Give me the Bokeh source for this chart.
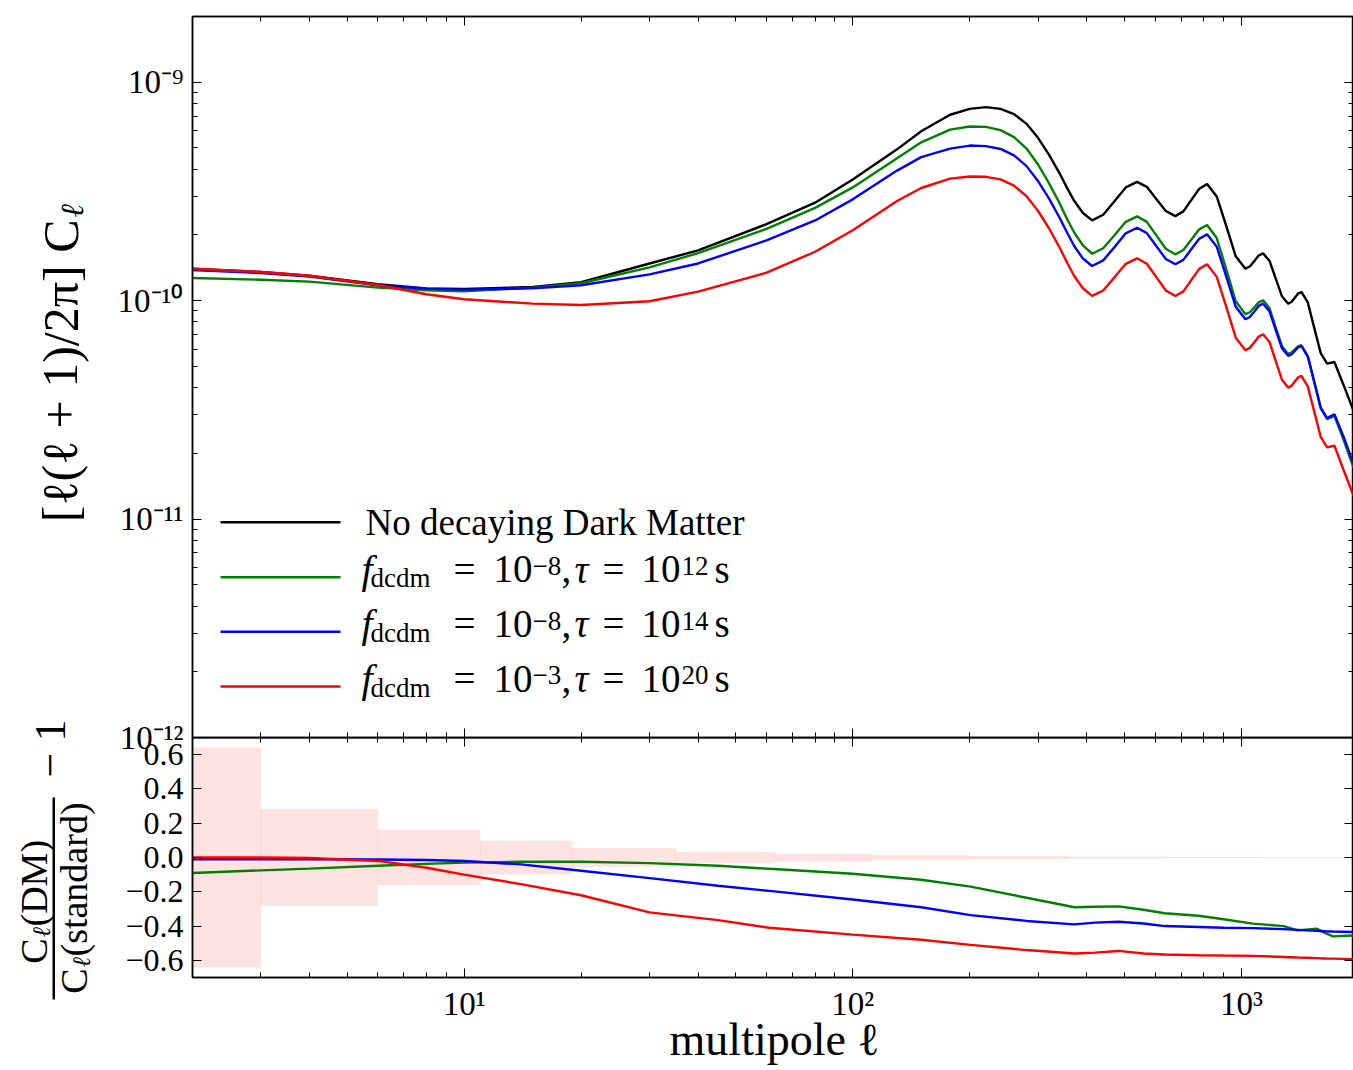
from bokeh.plotting import figure
from bokeh.layouts import column
from bokeh.models import (Range1d, LogAxis, LinearAxis, FixedTicker, LogTicker,
                          CustomJSTickFormatter, Label, BoxAnnotation)
from bokeh.embed import file_html
from bokeh.resources import INLINE

FONT = "Liberation Serif"

# ---------------- data ----------------
ell = [2, 3, 4, 6, 8, 10, 15, 20, 30, 40,
       60, 80, 100, 130, 150, 178, 200, 220, 240, 260,
       280, 300, 320, 340, 357, 372, 391, 413, 441, 472,
       504, 539, 571, 604, 639, 676, 709, 743, 779, 816,
       864, 915, 967, 1024, 1051, 1080, 1108, 1137, 1181, 1225,
       1272, 1319, 1345, 1372, 1399, 1427, 1482, 1540, 1600, 1662,
       1735, 1836, 1943]
# l(l+1)C_l/2pi in units of 1e-10
cl_standard = [1.40, 1.353, 1.30, 1.19, 1.137, 1.13, 1.155, 1.214, 1.48, 1.70,
               2.24, 2.81, 3.59, 4.93, 5.97, 7.10, 7.55, 7.69, 7.55, 7.15,
               6.45, 5.55, 4.65, 3.85, 3.25, 2.85, 2.52, 2.33, 2.474, 2.857,
               3.300, 3.500, 3.321, 2.922, 2.572, 2.439, 2.564, 2.886, 3.252, 3.417,
               2.999, 2.188, 1.596, 1.401, 1.434, 1.519, 1.609, 1.647, 1.524, 1.264,
               1.047, 0.969, 0.986, 1.031, 1.077, 1.096, 0.981, 0.751, 0.575, 0.515,
               0.524, 0.407, 0.313]
cl_f8_t12 = [1.27, 1.247, 1.222, 1.147, 1.116, 1.104, 1.147, 1.202, 1.42, 1.65,
             2.13, 2.66, 3.30, 4.49, 5.31, 6.07, 6.27, 6.25, 6.04, 5.61,
             4.97, 4.19, 3.44, 2.81, 2.34, 2.04, 1.79, 1.640, 1.738, 1.997,
             2.296, 2.432, 2.294, 1.991, 1.728, 1.630, 1.705, 1.902, 2.121, 2.219,
             1.935, 1.387, 0.994, 0.867, 0.885, 0.933, 0.983, 1.004, 0.925, 0.757,
             0.619, 0.570, 0.578, 0.597, 0.617, 0.625, 0.558, 0.424, 0.321, 0.287,
             0.297, 0.228, 0.172]
cl_f8_t14 = [1.38, 1.339, 1.288, 1.176, 1.135, 1.123, 1.139, 1.176, 1.32, 1.48,
             1.89, 2.33, 2.91, 3.94, 4.54, 4.97, 5.13, 5.10, 4.95, 4.63,
             4.13, 3.52, 2.93, 2.41, 2.03, 1.77, 1.56, 1.441, 1.529, 1.763,
             2.033, 2.157, 2.038, 1.779, 1.552, 1.467, 1.537, 1.718, 1.921, 2.012,
             1.766, 1.286, 0.937, 0.822, 0.842, 0.893, 0.946, 0.969, 0.894, 0.736,
             0.605, 0.559, 0.567, 0.589, 0.611, 0.621, 0.555, 0.424, 0.324, 0.290,
             0.302, 0.236, 0.179]
cl_f3_t20 = [1.40, 1.353, 1.30, 1.18, 1.07, 1.015, 0.969, 0.956, 0.994, 1.10,
             1.343, 1.675, 2.10, 2.86, 3.28, 3.62, 3.70, 3.69, 3.59, 3.36,
             3.01, 2.57, 2.14, 1.76, 1.48, 1.29, 1.14, 1.051, 1.113, 1.282,
             1.475, 1.563, 1.475, 1.282, 1.113, 1.051, 1.103, 1.242, 1.398, 1.467,
             1.285, 0.933, 0.677, 0.593, 0.608, 0.645, 0.685, 0.702, 0.647, 0.530,
             0.434, 0.400, 0.407, 0.426, 0.445, 0.453, 0.405, 0.310, 0.238, 0.213,
             0.217, 0.166, 0.128]
cl_unit = 1e-10

ell_r = [2, 3, 4, 6, 8, 10, 14, 20, 30, 45, 61, 100, 150, 201, 280, 372, 420, 483, 560,
         635, 776, 900, 1070, 1284, 1395, 1480, 1560, 1640, 1720, 1943]
ratio_f8_t12 = [-0.09, -0.075, -0.065, -0.048, -0.037, -0.03, -0.025, -0.025, -0.033,
                -0.048, -0.066, -0.095, -0.13, -0.17, -0.235, -0.29, -0.287, -0.285,
                -0.305, -0.325, -0.34, -0.36, -0.386, -0.40, -0.425, -0.42, -0.415,
                -0.44, -0.46, -0.455]
ratio_f8_t14 = [-0.01, -0.01, -0.01, -0.012, -0.015, -0.02, -0.04, -0.077, -0.12, -0.165,
                -0.195, -0.245, -0.29, -0.336, -0.37, -0.39, -0.38, -0.375, -0.385, -0.40,
                -0.405, -0.41, -0.412, -0.418, -0.422, -0.425, -0.427, -0.43, -0.432,
                -0.435]
ratio_f3_t20 = [0.0, 0.0, -0.003, -0.02, -0.06, -0.10, -0.155, -0.22, -0.32, -0.365,
                -0.41, -0.45, -0.48, -0.51, -0.54, -0.56, -0.555, -0.545, -0.56, -0.566,
                -0.57, -0.572, -0.574, -0.58, -0.583, -0.585, -0.587, -0.589, -0.59,
                -0.593]

# cosmic-variance bins
bin_edges = [2, 3, 6, 11, 19, 35, 63, 112, 200, 355, 630, 1125, 2000]
bin_err = [0.64, 0.28, 0.16, 0.097, 0.053, 0.031, 0.022, 0.012, 0.007, 0.004, 0.0025, 0.0015]

series_colors = ["black", "green", "blue", "red"]
legend_first = "No decaying Dark Matter"
f_exps = ["\u22128", "\u22128", "\u22123"]
tau_exps = ["12", "14", "20"]
ratio_ticks = [-0.6, -0.4, -0.2, 0.0, 0.2, 0.4, 0.6]

ylabel_top = "[\u2113(\u2113 + 1)/2\u03c0] C"
xlabel = "multipole \u2113"

# ---------------- helpers ----------------
SUP_JS = """
const m = {'-':'\\u207b','0':'\\u2070','1':'\\u00b9','2':'\\u00b2','3':'\\u00b3',
           '4':'\\u2074','5':'\\u2075','6':'\\u2076','7':'\\u2077','8':'\\u2078','9':'\\u2079'};
const e = Math.round(Math.log10(tick));
return '10' + String(e).split('').map(c => m[c]).join('');
"""
MINUS_JS = """
return (tick < -1e-9 ? '\\u2212' : '') + Math.abs(tick).toFixed(1);
"""
HALF_PI = 1.5707963


def style_axis(ax, labels=True, size="32px"):
    ax.axis_line_color = "black"
    ax.axis_line_width = 1.5
    ax.major_tick_in = 9
    ax.major_tick_out = 0
    ax.minor_tick_in = 5
    ax.minor_tick_out = 0
    ax.major_tick_line_color = "black"
    ax.minor_tick_line_color = "black"
    if labels:
        ax.major_label_text_font = FONT
        ax.major_label_text_font_size = size
        ax.major_label_text_color = "black"
        ax.major_label_standoff = 9
    else:
        ax.major_label_text_font_size = "1px"
        ax.major_label_text_alpha = 0.0
        ax.major_label_standoff = 0


def lab(p, text, x, y, size, style="normal", align="left", baseline="middle", angle=0):
    p.add_layout(Label(x=x, y=y, x_units="screen", y_units="screen", text=text,
                       text_font=FONT, text_font_size=size, text_font_style=style,
                       text_align=align, text_baseline=baseline, text_color="black",
                       angle=angle))

# ---------------- top panel ----------------
p1 = figure(width=1353, height=787, x_axis_type="log", y_axis_type="log",
            x_range=Range1d(2, 1943), y_range=Range1d(1e-12, 2.0e-9),
            output_backend="svg", toolbar_location=None,
            min_border_left=192, min_border_right=0, min_border_top=16,
            min_border_bottom=50, border_fill_color=None)
p1.styles = {"position": "relative", "z-index": "2"}
p1.xgrid.visible = False
p1.ygrid.visible = False
p1.outline_line_color = "black"
p1.outline_line_width = 1.5

xa = p1.xaxis[0]
xa.ticker = LogTicker(num_minor_ticks=10)
style_axis(xa, labels=False)
ya = p1.yaxis[0]
ya.ticker = LogTicker(num_minor_ticks=10)
ya.formatter = CustomJSTickFormatter(code=SUP_JS)
style_axis(ya, size="33px")

ra = LogAxis(ticker=LogTicker(num_minor_ticks=10))
style_axis(ra, labels=False)
p1.add_layout(ra, "right")
ta = LogAxis(ticker=LogTicker(num_minor_ticks=10))
style_axis(ta, labels=False)
p1.add_layout(ta, "above")

for vals, col in zip([cl_standard, cl_f8_t12, cl_f8_t14, cl_f3_t20], series_colors):
    p1.line(ell, [v * cl_unit for v in vals], line_color=col, line_width=2.4)

# legend (frame-relative screen coordinates)
row_line_sy = [215.3, 160.3, 105.7, 51.0]
for sy, col in zip(row_line_sy, series_colors):
    p1.add_layout(BoxAnnotation(left=28, right=148, bottom=sy - 1.25, top=sy + 1.25,
                                left_units="screen", right_units="screen",
                                top_units="screen", bottom_units="screen",
                                fill_color=col, fill_alpha=1.0, line_color=None))

lab(p1, legend_first, 173, 215, "37px")
row_main_sy = [168.3, 113.7, 59.0]
for sy, fe, te in zip(row_main_sy, f_exps, tau_exps):
    lab(p1, "f", 169, sy, "40px", style="italic")
    lab(p1, "dcdm", 178, sy - 9.2, "27px")
    lab(p1, "=", 261, sy, "39px")
    lab(p1, "10", 301, sy, "39px")
    lab(p1, fe, 340, sy + 3.1, "27px")
    lab(p1, ",", 369, sy, "39px")
    lab(p1, "\u03c4", 382, sy, "39px", style="italic")
    lab(p1, "=", 410, sy, "39px")
    lab(p1, "10", 449, sy, "39px")
    lab(p1, te, 489, sy + 3.1, "27px")
    lab(p1, "s", 522, sy, "39px")

# ---------------- bottom panel ----------------
p2 = figure(width=1353, height=343, x_axis_type="log",
            x_range=p1.x_range, y_range=Range1d(-0.7, 0.7),
            output_backend="svg", toolbar_location=None,
            min_border_left=192, min_border_right=0, min_border_top=10,
            min_border_bottom=93, border_fill_color=None, margin=(-60, 0, 0, 0))
p2.xgrid.visible = False
p2.ygrid.visible = False
p2.outline_line_color = "black"
p2.outline_line_width = 1.5

p2.quad(left=bin_edges[:-1], right=bin_edges[1:], top=bin_err,
        bottom=[-e for e in bin_err], fill_color="red", fill_alpha=0.11,
        line_color="red", line_alpha=0.04)

for vals, col in zip([ratio_f8_t12, ratio_f8_t14, ratio_f3_t20], series_colors[1:]):
    p2.line(ell_r, vals, line_color=col, line_width=2.4)

bx = p2.xaxis[0]
bx.ticker = LogTicker(num_minor_ticks=10)
bx.formatter = CustomJSTickFormatter(code=SUP_JS)
style_axis(bx, size="33px")
bx.major_label_standoff = 8

by = p2.yaxis[0]
by.ticker = FixedTicker(ticks=ratio_ticks, minor_ticks=[])
by.formatter = CustomJSTickFormatter(code=MINUS_JS)
style_axis(by)

r2 = LinearAxis(ticker=FixedTicker(ticks=ratio_ticks, minor_ticks=[]))
style_axis(r2, labels=False)
p2.add_layout(r2, "right")
t2 = LogAxis(ticker=LogTicker(num_minor_ticks=10))
style_axis(t2, labels=False)
p2.add_layout(t2, "above")

# ---------------- transparent text overlay (page coordinates) ----------------
H = 1070
ov = figure(width=1353, height=H, x_range=Range1d(0, 1353), y_range=Range1d(0, H),
            x_axis_location=None, y_axis_location=None,
            output_backend="svg", toolbar_location=None,
            min_border=0, min_border_left=0, min_border_right=0,
            min_border_top=0, min_border_bottom=0,
            background_fill_color=None, border_fill_color=None,
            outline_line_color=None, margin=(-H, 0, 0, 0))
try:
    ov.frame_align = False
except Exception:
    pass
ov.styles = {"position": "relative", "z-index": "3", "pointer-events": "none"}
ov.xgrid.visible = False
ov.ygrid.visible = False


def plab(text, xp, yp, size, align="center", angle=0.0, style="normal"):
    lab(ov, text, xp, H - yp, size, style=style, align=align, angle=angle)

# top y-axis title: [l(l+1)/2pi] C_l
plab(ylabel_top, 60, 219, "50px", align="right", angle=HALF_PI)
plab("\u2113", 71, 217, "32px", align="left", angle=HALF_PI, style="italic")

# x-axis title
plab(xlabel, 774, 1039, "46px")

# lower y-axis title: C_l(DM)/C_l(standard) - 1
plab("C", 33, 938, "38px", align="right", angle=HALF_PI)
plab("\u2113", 41, 937, "25px", align="left", angle=HALF_PI, style="italic")
plab("(DM)", 33, 926, "38px", align="left", angle=HALF_PI)
plab("C", 73, 968, "38px", align="right", angle=HALF_PI)
plab("\u2113", 81, 967, "25px", align="left", angle=HALF_PI, style="italic")
plab("(standard)", 73, 956, "38px", align="left", angle=HALF_PI)
ov.add_layout(BoxAnnotation(left=52, right=54.5, bottom=H - 999, top=H - 797,
                            left_units="screen", right_units="screen",
                            top_units="screen", bottom_units="screen",
                            fill_color="black", fill_alpha=1.0, line_color=None))
plab("\u2212 1", 50, 748, "44px", angle=HALF_PI)

layout = column(p1, p2, ov, spacing=0)
open("out.html", "w").write(file_html(layout, INLINE))
